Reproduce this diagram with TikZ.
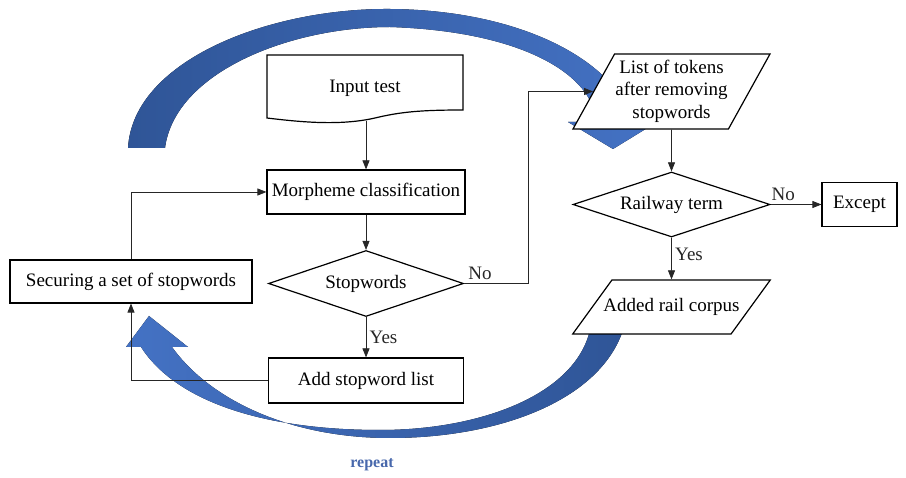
\documentclass[tikz,border=0pt]{standalone}
\usepackage{fontspec}
\setmainfont{Liberation Serif}
\usetikzlibrary{shapes.geometric,arrows.meta}
\definecolor{repblue}{RGB}{68,114,196}
\definecolor{repdark}{RGB}{47,85,151}
\definecolor{reptext}{RGB}{72,104,172}
\begin{document}
\begin{tikzpicture}[x=1pt,y=-1pt,>={Triangle[length=9pt,width=7pt]},
    every node/.style={font=\fontsize{19}{22.5}\selectfont},
    proc/.style={draw,fill=white,line width=1.2pt,minimum height=44pt,inner sep=2pt},
    decide/.style={draw,fill=white,diamond,aspect=3,line width=1.2pt,inner sep=0pt},
    io/.style={draw,fill=white,trapezium,trapezium stretches body,line width=1.2pt,inner xsep=0pt,text depth=4pt,align=center},
    link/.style={->,black!85,line width=0.7pt}]
    \useasboundingbox (0,0) rectangle (906,478);
    \fill[left color=repdark,right color=repblue] (128,148) .. controls (133,60) and (270,8) .. (390,9)
      .. controls (520,10) and (615,60) .. (633,122) -- (657,122) -- (613,149) -- (568,122) -- (595,122)
      .. controls (597,85) and (540,32) .. (390,27) .. controls (290,27) and (175,72) .. (165,148) -- cycle;
    \fill[left color=repblue,right color=repdark] (623,330) .. controls (600,400) and (500,438) .. (390,438)
      .. controls (290,438) and (210,400) .. (172,347) -- (188,347) -- (149,316) -- (126,347) -- (141,347)
      .. controls (175,400) and (260,430) .. (380,430) .. controls (480,430) and (575,395) .. (590,330) -- cycle;
    \draw[line width=1.2pt,fill=white] (267,118) -- (267,55) -- (463,55) -- (463,110)
      .. controls (420,110) and (400,112) .. (375,118) .. controls (340,126) and (300,122) .. (267,118) -- cycle;
    \node (input) at (365,88) {Input test};
    \coordinate (inbot) at (366,121);
    \node[proc,minimum width=198pt] (morph) at (366,192) {Morpheme classification};
    \node[decide,minimum width=195pt,minimum height=66pt] (stop) at (366,283.5) {Stopwords};
    \node[proc,minimum width=195pt,minimum height=45pt] (add) at (366,380.5) {Add stopword list};
    \node[proc,minimum width=242pt,minimum height=43pt] (secure) at (131,281.5) {Securing a set of stopwords};
    \node[io,trapezium left angle=61,trapezium right angle=119,minimum width=197pt,
      text height=58pt,inner ysep=6.5pt] (tokens) at (671.5,91.5) {List of tokens\\after removing\\stopwords};
    \node[decide,minimum width=197pt,minimum height=65pt] (rail) at (671.5,204.5) {Railway term};
    \node[proc,minimum width=75pt] (except) at (859.5,204.5) {Except};
    \node[io,trapezium left angle=54,trapezium right angle=126,inner xsep=-8.5pt,
      text height=13pt,inner ysep=18.5pt] (corpus) at (671.5,307) {Added rail corpus};
    \node[font=\bfseries\fontsize{16}{19}\selectfont,text=reptext] (rep) at (372,465) {repeat};
    \draw[link] (inbot) -- (morph);
    \draw[link] (morph) -- (stop);
    \draw[link] (stop) -- node[right] {Yes} (add);
    \draw[link] (add.west) -| (secure.south);
    \draw[link] (secure.north) |- (morph.west);
    \draw[link] (stop.east) -- node[above,pos=0.25] {No} ++(64,0) |- (tokens.west);
    \draw[link] (tokens) -- (rail);
    \draw[link] (rail) -- node[above,pos=0.25] {No} (except);
    \draw[link] (rail) -- node[right,pos=0.4] {Yes} (corpus);
  \end{tikzpicture}
\end{document}
